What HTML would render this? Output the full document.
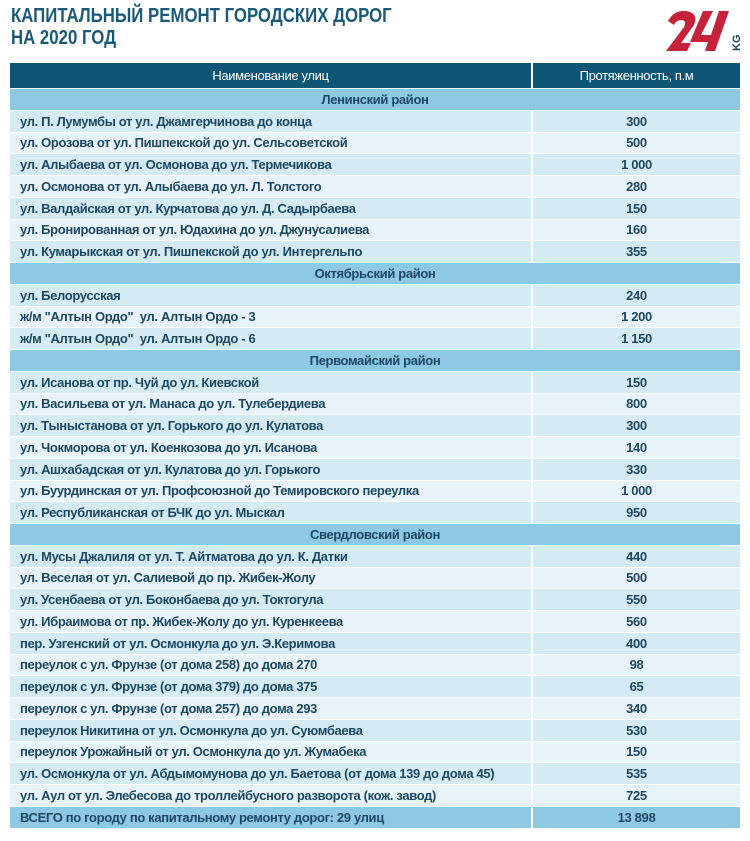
<!DOCTYPE html>
<html><head><meta charset="utf-8"><style>
body{margin:0;width:750px;height:841px;background:#fff;overflow:hidden;font-family:"Liberation Sans Narrow","Liberation Sans",sans-serif;}
.title{position:absolute;left:11px;top:5px;color:#1a5a78;font-size:20px;line-height:22px;font-weight:bold;transform:scaleX(0.84);transform-origin:left top;white-space:nowrap;}
.logo{position:absolute;left:666px;top:8px;}
table{position:absolute;left:10px;top:63px;width:730px;border-collapse:collapse;table-layout:fixed;}
td{height:20.76px;padding:0;font-size:13px;font-weight:bold;color:#1c4862;border-bottom:1px solid #fff;letter-spacing:-0.35px;white-space:nowrap;}
td.n{padding-left:10px;border-right:2px solid #fff;}
td.v{text-align:center;}
tr.h td{height:25px;background:#0f5575;color:#fff;font-weight:normal;text-align:center;}
tr.d td{background:#8dc9e2;text-align:center;}
tr.a td{background:#d5ebf4;}
tr.b td{background:#e7f3f9;}
tr.t td{background:#8dc9e2;}
</style></head><body>
<div class="title">КАПИТАЛЬНЫЙ РЕМОНТ ГОРОДСКИХ ДОРОГ<br>НА 2020 ГОД</div>
<svg class="logo" width="78" height="46" viewBox="0 0 78 46">
<path d="M2 13 Q8 2 20 3 Q33 5 28 17 L15 35 L25 35 L21 43 L0 43 L18 19 Q21 13 16 12 Q10 12 8 17 Z" fill="#c8213a"/>
<path d="M37 3 L47 3 L35 27 L45 27 L53 3 L63 3 L49 43 L39 43 L42 34 L24 34 Z" fill="#c8213a"/>
<text x="74" y="43" transform="rotate(-90 74 43)" font-family="Liberation Sans" font-weight="bold" font-size="11" fill="#1c4862">KG</text>
</svg>
<table>
<colgroup><col style="width:522px"><col></colgroup>
<tr class="h"><td class="n" style="padding:0">Наименование улиц</td><td>Протяженность, п.м</td></tr>
<tr class="d"><td colspan="2">Ленинский район</td></tr>
<tr class="a"><td class="n">ул. П. Лумумбы от ул. Джамгерчинова до конца</td><td class="v">300</td></tr>
<tr class="b"><td class="n">ул. Орозова от ул. Пишпекской до ул. Сельсоветской</td><td class="v">500</td></tr>
<tr class="a"><td class="n">ул. Алыбаева от ул. Осмонова до ул. Термечикова</td><td class="v">1 000</td></tr>
<tr class="b"><td class="n">ул. Осмонова от ул. Алыбаева до ул. Л. Толстого</td><td class="v">280</td></tr>
<tr class="a"><td class="n">ул. Валдайская от ул. Курчатова до ул. Д. Садырбаева</td><td class="v">150</td></tr>
<tr class="b"><td class="n">ул. Бронированная от ул. Юдахина до ул. Джунусалиева</td><td class="v">160</td></tr>
<tr class="a"><td class="n">ул. Кумарыкская от ул. Пишпекской до ул. Интергельпо</td><td class="v">355</td></tr>
<tr class="d"><td colspan="2">Октябрьский район</td></tr>
<tr class="a"><td class="n">ул. Белорусская</td><td class="v">240</td></tr>
<tr class="b"><td class="n">ж/м "Алтын Ордо"&nbsp; ул. Алтын Ордо - 3</td><td class="v">1 200</td></tr>
<tr class="a"><td class="n">ж/м "Алтын Ордо"&nbsp; ул. Алтын Ордо - 6</td><td class="v">1 150</td></tr>
<tr class="d"><td colspan="2">Первомайский район</td></tr>
<tr class="a"><td class="n">ул. Исанова от пр. Чуй до ул. Киевской</td><td class="v">150</td></tr>
<tr class="b"><td class="n">ул. Васильева от ул. Манаса до ул. Тулебердиева</td><td class="v">800</td></tr>
<tr class="a"><td class="n">ул. Тыныстанова от ул. Горького до ул. Кулатова</td><td class="v">300</td></tr>
<tr class="b"><td class="n">ул. Чокморова от ул. Коенкозова до ул. Исанова</td><td class="v">140</td></tr>
<tr class="a"><td class="n">ул. Ашхабадская от ул. Кулатова до ул. Горького</td><td class="v">330</td></tr>
<tr class="b"><td class="n">ул. Буурдинская от ул. Профсоюзной до Темировского переулка</td><td class="v">1 000</td></tr>
<tr class="a"><td class="n">ул. Республиканская от БЧК до ул. Мыскал</td><td class="v">950</td></tr>
<tr class="d"><td colspan="2">Свердловский район</td></tr>
<tr class="a"><td class="n">ул. Мусы Джалиля от ул. Т. Айтматова до ул. К. Датки</td><td class="v">440</td></tr>
<tr class="b"><td class="n">ул. Веселая от ул. Салиевой до пр. Жибек-Жолу</td><td class="v">500</td></tr>
<tr class="a"><td class="n">ул. Усенбаева от ул. Боконбаева до ул. Токтогула</td><td class="v">550</td></tr>
<tr class="b"><td class="n">ул. Ибраимова от пр. Жибек-Жолу до ул. Куренкеева</td><td class="v">560</td></tr>
<tr class="a"><td class="n">пер. Узгенский от ул. Осмонкула до ул. Э.Керимова</td><td class="v">400</td></tr>
<tr class="b"><td class="n">переулок с ул. Фрунзе (от дома 258) до дома 270</td><td class="v">98</td></tr>
<tr class="a"><td class="n">переулок с ул. Фрунзе (от дома 379) до дома 375</td><td class="v">65</td></tr>
<tr class="b"><td class="n">переулок с ул. Фрунзе (от дома 257) до дома 293</td><td class="v">340</td></tr>
<tr class="a"><td class="n">переулок Никитина от ул. Осмонкула до ул. Суюмбаева</td><td class="v">530</td></tr>
<tr class="b"><td class="n">переулок Урожайный от ул. Осмонкула до ул. Жумабека</td><td class="v">150</td></tr>
<tr class="a"><td class="n">ул. Осмонкула от ул. Абдымомунова до ул. Баетова (от дома 139 до дома 45)</td><td class="v">535</td></tr>
<tr class="b"><td class="n">ул. Аул от ул. Элебесова до троллейбусного разворота (кож. завод)</td><td class="v">725</td></tr>
<tr class="t"><td class="n">ВСЕГО по городу по капитальному ремонту дорог: 29 улиц</td><td class="v">13 898</td></tr>
</table>
</body></html>
